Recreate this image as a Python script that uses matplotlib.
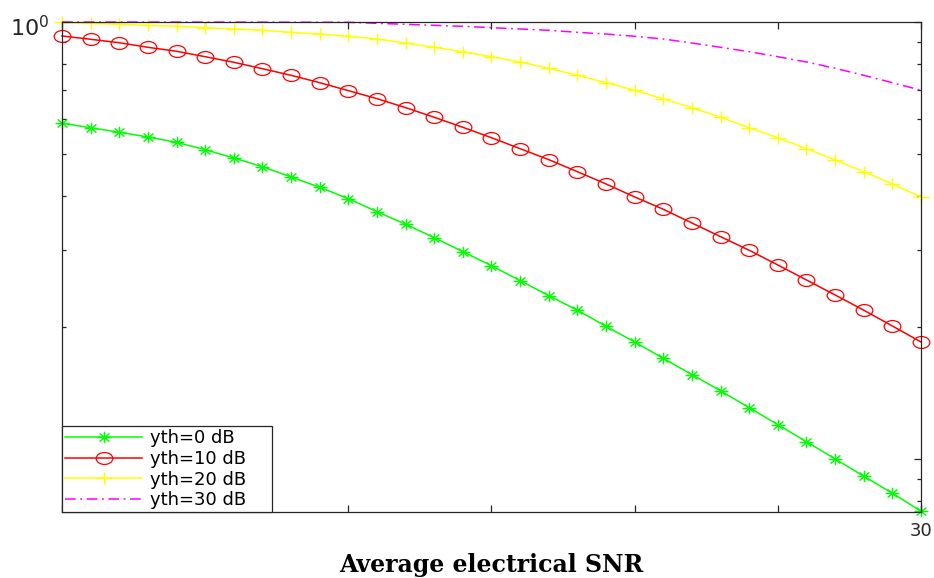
import numpy as np
import matplotlib
matplotlib.use("Agg")
import matplotlib.pyplot as plt
from matplotlib.path import Path
from matplotlib.transforms import Affine2D, ScaledTranslation
from matplotlib.ticker import FixedLocator, FixedFormatter, LogLocator, NullFormatter

# ---------------- data ----------------
snr_db = list(range(0, 31))

yth_0 = [0.5865, 0.5729, 0.5593, 0.5455, 0.5305, 0.5103, 0.4884, 0.4665, 0.4419, 0.4185,
         0.3942, 0.3680, 0.3444, 0.3209, 0.2981, 0.2768, 0.2559, 0.2364, 0.2190, 0.2011,
         0.1852, 0.1699, 0.1559, 0.1432, 0.1310, 0.1198, 0.1095, 0.1000, 0.0913, 0.0835,
         0.0759]

yth_10 = [0.9290, 0.9129, 0.8966, 0.8752, 0.8570, 0.8329, 0.8087, 0.7818, 0.7551, 0.7263,
          0.6965, 0.6677, 0.6368, 0.6052, 0.5741, 0.5434, 0.5130, 0.4841, 0.4544, 0.4259,
          0.3977, 0.3727, 0.3467, 0.3226, 0.3003, 0.2779, 0.2568, 0.2373, 0.2190, 0.2015,
          0.1852]

yth_20 = [0.9984, 0.9931, 0.9879, 0.9826, 0.9777, 0.9705, 0.9638, 0.9572, 0.9471, 0.9386,
          0.9275, 0.9143, 0.8951, 0.8752, 0.8551, 0.8329, 0.8100, 0.7836, 0.7551, 0.7263,
          0.6979, 0.6666, 0.6368, 0.6052, 0.5729, 0.5434, 0.5130, 0.4833, 0.4544, 0.4259,
          0.3977]

yth_30 = [0.9998, 0.9997, 0.9996, 0.9995, 0.9994, 0.9993, 0.9992, 0.9990, 0.9988, 0.9986,
          0.9984, 0.9931, 0.9879, 0.9826, 0.9777, 0.9705, 0.9638, 0.9572, 0.9471, 0.9386,
          0.9275, 0.9143, 0.8951, 0.8752, 0.8551, 0.8329, 0.8100, 0.7836, 0.7551, 0.7263,
          0.6979]

series_labels = ["yth=0 dB", "yth=10 dB", "yth=20 dB", "yth=30 dB"]
x_ticks = [0, 5, 10, 15, 20, 25, 30]
x_tick_labels = ["", "", "", "", "", "", "30"]
y_major_ticks = [0.1, 1.0]
y_major_labels = ["", r"$\mathregular{10^{0}}$"]
x_label = "Average electrical SNR"

# ---------------- markers (horizontally stretched, as in reference) ----------------
def ellipse_marker(sx):
    return Path.unit_circle().transformed(Affine2D().scale(sx, 1.0))

def plus_marker(sx):
    verts = [(-sx, 0), (sx, 0), (0, -1), (0, 1)]
    codes = [Path.MOVETO, Path.LINETO, Path.MOVETO, Path.LINETO]
    return Path(verts, codes)

def asterisk_marker(sx):
    a = 0.707
    verts = [(-sx, 0), (sx, 0), (0, -1), (0, 1),
             (-a * sx, -a), (a * sx, a), (-a * sx, a), (a * sx, -a)]
    codes = [Path.MOVETO, Path.LINETO] * 4
    return Path(verts, codes)

# ---------------- figure ----------------
W, H = 934, 578
fig = plt.figure(figsize=(W / 100, H / 100), dpi=100)
fig.patch.set_facecolor("white")
ax_left, ax_right, ax_top, ax_bottom = 62, 921, 22, 512
ax = fig.add_axes([ax_left / W, 1 - ax_bottom / H, (ax_right - ax_left) / W, (ax_bottom - ax_top) / H])

lw = 1.1
ax.plot(snr_db, yth_0, color="#00ff00", lw=lw, marker=asterisk_marker(1.2), markersize=10,
        markeredgewidth=1.0, markerfacecolor="none", clip_on=False, label=series_labels[0])
ax.plot(snr_db, yth_10, color="#ff0000", lw=lw, marker=ellipse_marker(1.4), markersize=12,
        markeredgewidth=0.9, markerfacecolor="none", clip_on=False, label=series_labels[1])
ax.plot(snr_db, yth_20, color="#ffff00", lw=lw, marker=plus_marker(1.4), markersize=11.5,
        markeredgewidth=1.0, markerfacecolor="none", clip_on=False, label=series_labels[2])
ax.plot(snr_db, yth_30, color="#ff00ff", lw=lw, linestyle=(0, (7, 3, 1.2, 3)), clip_on=False,
        label=series_labels[3])

ax.set_yscale("log")
ax.set_xlim(0, 30)
ax.set_ylim(0.0756, 1.0)

ax.xaxis.set_major_locator(FixedLocator(x_ticks))
ax.xaxis.set_major_formatter(FixedFormatter(x_tick_labels))
ax.yaxis.set_major_locator(FixedLocator(y_major_ticks))
ax.yaxis.set_major_formatter(FixedFormatter(y_major_labels))
ax.yaxis.set_minor_locator(LogLocator(base=10, subs=np.arange(2, 10) * 1.0))
ax.yaxis.set_minor_formatter(NullFormatter())

spine_col = "#262626"
for s in ax.spines.values():
    s.set_color(spine_col)
    s.set_linewidth(0.9)
ax.tick_params(axis="both", which="both", direction="in", top=True, right=True,
               color=spine_col, labelcolor=spine_col, pad=7)
ax.tick_params(axis="x", labelsize=13)
ax.tick_params(axis="y", labelsize=16, pad=9)
ax.tick_params(axis="both", which="major", length=5, width=0.9)
ax.tick_params(axis="both", which="minor", length=3, width=0.9)
for lab in ax.get_xticklabels() + ax.get_yticklabels():
    lab.set_fontfamily("DejaVu Sans")
# shift the y tick label slightly down, as in the reference
for tick in ax.yaxis.get_major_ticks():
    tick.label1.set_transform(tick.label1.get_transform()
                              + ScaledTranslation(0, -4 / 100, fig.dpi_scale_trans))

leg = ax.legend(loc="lower left", bbox_to_anchor=(0, 0, 210 / (ax_right - ax_left), 0.2),
                mode="expand", borderaxespad=0, fancybox=False, framealpha=1,
                edgecolor=spine_col, prop={"family": "DejaVu Sans", "size": 13},
                handlelength=4.3, handletextpad=0.4, labelspacing=0.15, borderpad=0.15,
                numpoints=1)
leg.get_frame().set_linewidth(0.9)

fig.text(491 / W, 1 - 565 / H, x_label, ha="center", va="center",
         fontfamily="DejaVu Serif", fontweight="bold", fontsize=17, color="black")

fig.savefig("out.png", dpi=100)
